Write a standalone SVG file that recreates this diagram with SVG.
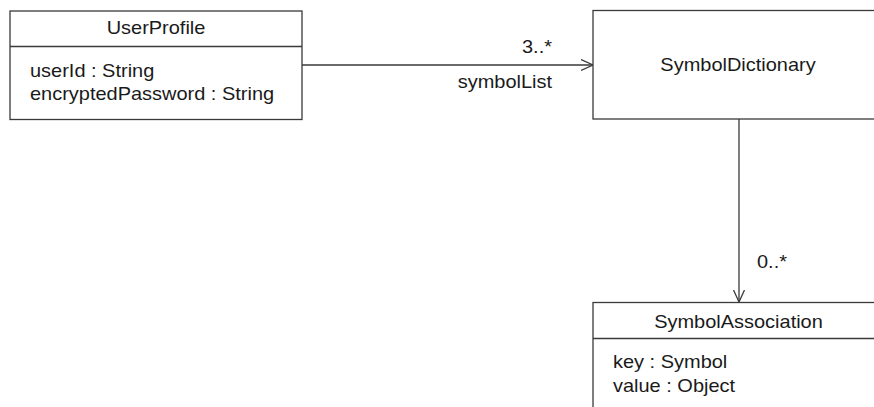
<svg xmlns="http://www.w3.org/2000/svg" width="874" height="407" viewBox="0 0 874 407">
  <style>
    .box { fill: #ffffff; stroke: #3a3a3a; stroke-width: 1.3; }
    .div { stroke: #3a3a3a; stroke-width: 1.3; }
    .edge { fill: none; stroke: #3a3a3a; stroke-width: 1.3; }
    .t { font-family: "Liberation Sans", Arial, sans-serif; font-size: 18px; fill: #1a1a1a; }
    .c { text-anchor: middle; }
    .r { text-anchor: end; }
  </style>
  <defs>
    <marker id="open" markerWidth="14" markerHeight="14" refX="12" refY="6" orient="auto" markerUnits="userSpaceOnUse">
      <path d="M0,0.5 L12,6 L0,11.5" fill="none" stroke="#3a3a3a" stroke-width="1.3"/>
    </marker>
  </defs>
  <rect width="874" height="407" fill="#ffffff"/>

  <g id="connectors">
    <line class="edge" x1="302" y1="65" x2="593" y2="65" marker-end="url(#open)"/>
    <text class="t r" transform="translate(552,53) scale(1.11,1)">3..*</text>
    <text class="t r" transform="translate(552,88) scale(1.11,1)">symbolList</text>
    <line class="edge" x1="739" y1="119" x2="739" y2="302" marker-end="url(#open)"/>
    <text class="t" transform="translate(757,268) scale(1.11,1)">0..*</text>
  </g>

  <g id="UserProfile">
    <rect class="box" x="10" y="11" width="292" height="108.5"/>
    <line class="div" x1="10" y1="46.5" x2="302" y2="46.5"/>
    <text class="t c" transform="translate(156,34) scale(1.11,1)">UserProfile</text>
    <text class="t" transform="translate(30,77) scale(1.11,1)">userId : String</text>
    <text class="t" transform="translate(30,100) scale(1.11,1)">encryptedPassword : String</text>
  </g>

  <g id="SymbolDictionary">
    <rect class="box" x="593" y="10.5" width="290" height="108.5"/>
    <text class="t c" transform="translate(738,71) scale(1.11,1)">SymbolDictionary</text>
  </g>

  <g id="SymbolAssociation">
    <rect class="box" x="593" y="302.5" width="290" height="120"/>
    <line class="div" x1="593" y1="338.5" x2="883" y2="338.5"/>
    <text class="t c" transform="translate(738.5,328) scale(1.11,1)">SymbolAssociation</text>
    <text class="t" transform="translate(613,368) scale(1.11,1)">key : Symbol</text>
    <text class="t" transform="translate(613,391.5) scale(1.11,1)">value : Object</text>
  </g>
</svg>
